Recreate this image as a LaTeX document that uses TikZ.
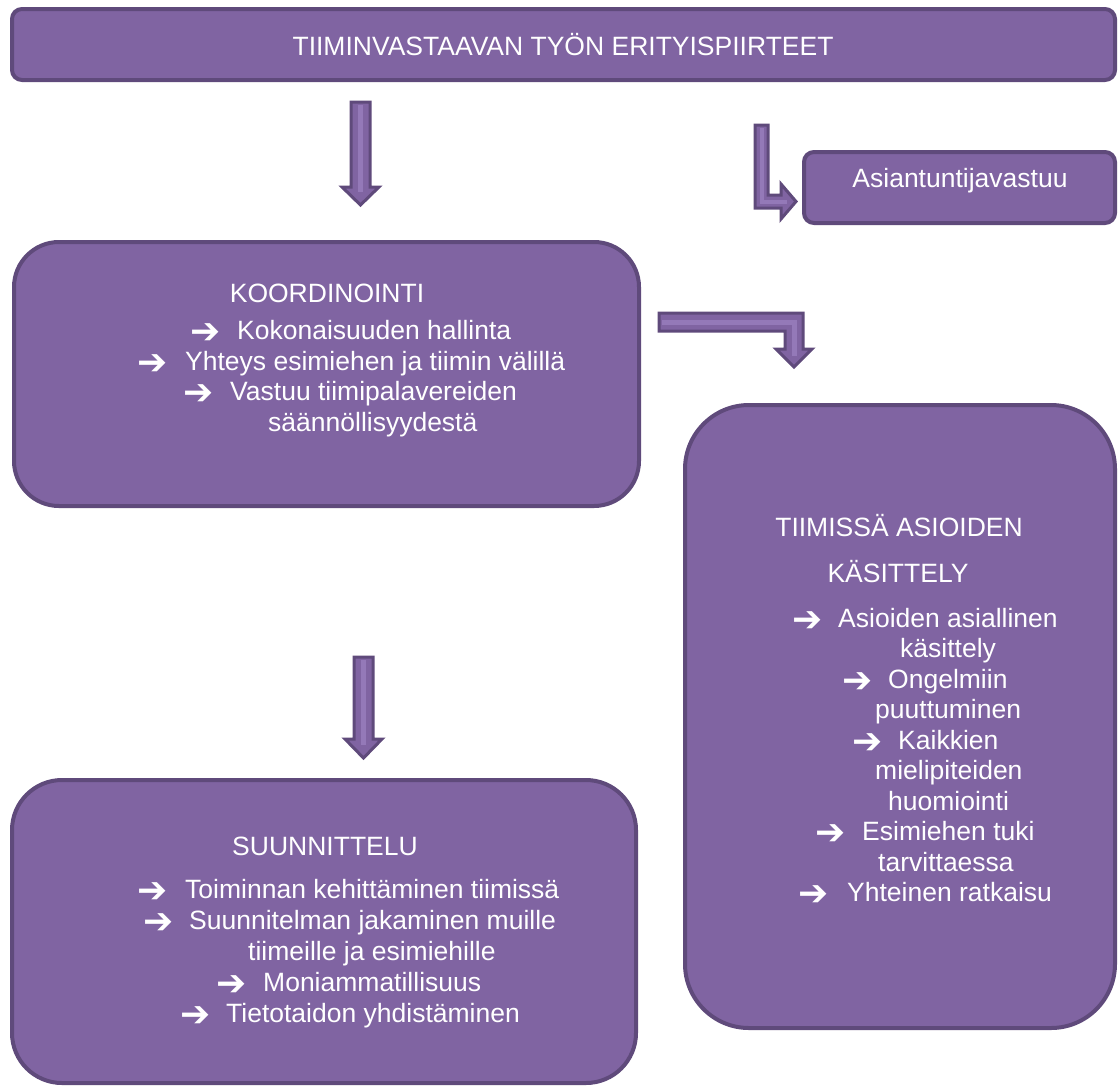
\documentclass[tikz,border=0pt]{standalone}
\usepackage{fontspec}
\setmainfont{Liberation Sans}
\newfontfamily\symfont{DejaVu Sans}
\definecolor{boxfill}{HTML}{8064A2}
\definecolor{boxline}{HTML}{5F4A7B}
\definecolor{stripecol}{HTML}{9479B8}
\begin{document}
\begin{tikzpicture}[x=1pt,y=-1pt,
  box/.style={draw=boxline, fill=boxfill, line width=4pt, rectangle, inner sep=0pt, outer sep=0pt},
  txt/.style={text=white, font=\fontsize{26.5}{31.8}\selectfont, inner sep=0pt},
  bul/.style={text=white, font=\symfont\bfseries\fontsize{36}{40}\selectfont, inner sep=0pt, text height=12pt, text depth=0pt, yshift=-4pt},
  blockarrow/.style={draw=boxline, fill=boxfill, line width=3pt, line join=miter},
  stripeline/.style={draw=stripecol, line width=5pt}]
\useasboundingbox (0,0) rectangle (1119,1088);

% boxes
\node[box, rounded corners=10pt, minimum width=1103pt, minimum height=71pt] (top) at (563.5,44.5) {};
\node[box, rounded corners=10pt, minimum width=311pt, minimum height=71pt] (asi) at (959.5,187.5) {};
\node[box, rounded corners=45pt, minimum width=625pt, minimum height=264pt] (koord) at (326.5,374) {};
\node[box, rounded corners=64pt, minimum width=430pt, minimum height=623pt] (tiimi) at (900,716.5) {};
\node[box, rounded corners=50pt, minimum width=624pt, minimum height=303pt] (suun) at (324,931.5) {};

% block arrows
\draw[blockarrow] (351,102) -- (370,102) -- (370,187) -- (379,187) -- (360.5,205) -- (342,187) -- (351,187) -- cycle;
\draw[stripeline] (360.5,105) -- (360.5,192);
\draw[blockarrow] (755,125) -- (768,125) -- (768,195) -- (781,195) -- (781,184) -- (796,201.5) -- (781,219) -- (781,208) -- (755,208) -- cycle;
\draw[stripeline, line width=4pt] (761.5,128) -- (761.5,201.5) -- (787,201.5);
\draw[blockarrow] (659,313) -- (803,313) -- (803,349) -- (812,349) -- (794,367) -- (776,349) -- (785,349) -- (785,331) -- (659,331) -- cycle;
\draw[stripeline] (662,322) -- (794,322) -- (794,356);
\draw[blockarrow] (354,657) -- (373,657) -- (373,739) -- (382,739) -- (363.5,758) -- (345,739) -- (354,739) -- cycle;
\draw[stripeline] (363.5,660) -- (363.5,745);

% titles
\node[txt, anchor=base] (ttitle) at (563,55) {TIIMINVASTAAVAN TYÖN ERITYISPIIRTEET};
\node[txt, anchor=base] (tasi) at (960,187) {Asiantuntijavastuu};
\node[txt, anchor=base] (tkoord) at (327,302) {KOORDINOINTI};
\node[txt, anchor=base] (ttiimi1) at (899,536) {TIIMISSÄ ASIOIDEN};
\node[txt, anchor=base] (ttiimi2) at (898,582) {KÄSITTELY};
\node[txt, anchor=base] (tsuun) at (325,855) {SUUNNITTELU};

% KOORDINOINTI bullets
\node[bul, anchor=base west] (kb1) at (190,339) {➔};
\node[txt, anchor=base west] (k1) at (237,339) {Kokonaisuuden hallinta};
\node[bul, anchor=base west] (kb2) at (137,370) {➔};
\node[txt, anchor=base west] (k2) at (185,370) {Yhteys esimiehen ja tiimin välillä};
\node[bul, anchor=base west] (kb3) at (183,400) {➔};
\node[txt, anchor=base west] (k3) at (230,400) {Vastuu tiimipalavereiden};
\node[txt, anchor=base west] (k4) at (268,431) {säännöllisyydestä};

% TIIMISSÄ bullets
\node[bul, anchor=base west] (tb1) at (792,627) {➔};
\node[txt, anchor=base west] (t1) at (838,627) {Asioiden asiallinen};
\node[txt, anchor=base west] (t2) at (900,657) {käsittely};
\node[bul, anchor=base west] (tb2) at (842,688) {➔};
\node[txt, anchor=base west] (t3) at (888,688) {Ongelmiin};
\node[txt, anchor=base west] (t4) at (875,718) {puuttuminen};
\node[bul, anchor=base west] (tb3) at (852,749) {➔};
\node[txt, anchor=base west] (t5) at (898,749) {Kaikkien};
\node[txt, anchor=base west] (t6) at (875,779) {mielipiteiden};
\node[txt, anchor=base west] (t7) at (888,810) {huomiointi};
\node[bul, anchor=base west] (tb4) at (815,840) {➔};
\node[txt, anchor=base west] (t8) at (862,840) {Esimiehen tuki};
\node[txt, anchor=base west] (t9) at (878,871) {tarvittaessa};
\node[bul, anchor=base west] (tb5) at (798,901) {➔};
\node[txt, anchor=base west] (t10) at (847,901) {Yhteinen ratkaisu};

% SUUNNITTELU bullets
\node[bul, anchor=base west] (sb1) at (137,898) {➔};
\node[txt, anchor=base west] (s1) at (185,898) {Toiminnan kehittäminen tiimissä};
\node[bul, anchor=base west] (sb2) at (143,929) {➔};
\node[txt, anchor=base west] (s2) at (189,929) {Suunnitelman jakaminen muille};
\node[txt, anchor=base west] (s3) at (248,960) {tiimeille ja esimiehille};
\node[bul, anchor=base west] (sb3) at (216,991) {➔};
\node[txt, anchor=base west] (s4) at (263,991) {Moniammatillisuus};
\node[bul, anchor=base west] (sb4) at (180,1022) {➔};
\node[txt, anchor=base west] (s5) at (226,1022) {Tietotaidon yhdistäminen};
\end{tikzpicture}
\end{document}
